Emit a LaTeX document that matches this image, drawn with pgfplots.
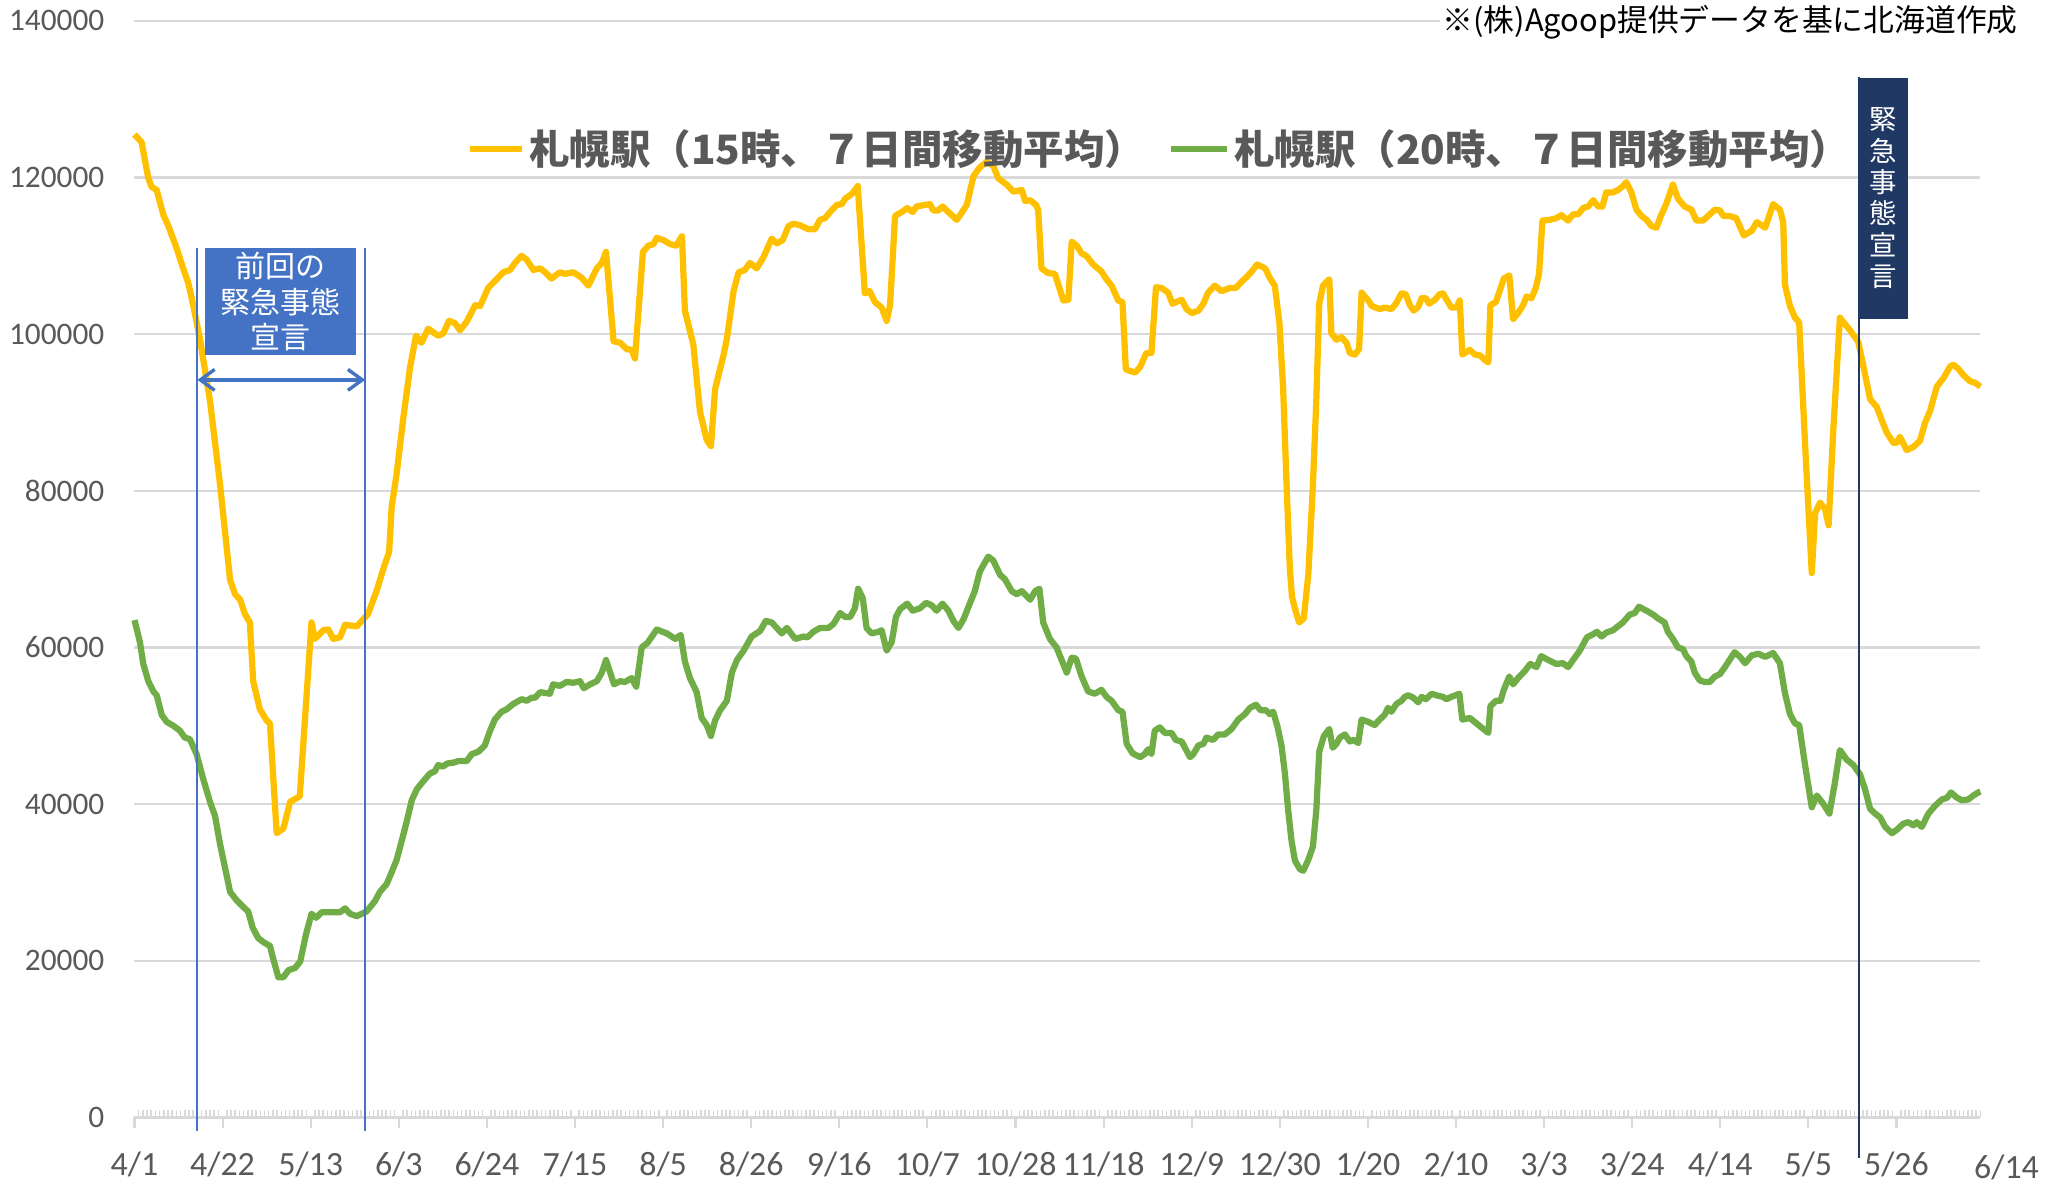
\documentclass[border=0pt]{standalone}
\usepackage{pgfplots}
\pgfplotsset{compat=1.18}
\usepackage{fontspec}
\setmainfont{Carlito}
\newfontfamily\jp{Noto Sans CJK JP}
\usetikzlibrary{arrows.meta}

\definecolor{yellowc}{HTML}{FFC000}
\definecolor{greenc}{HTML}{70AD47}
\definecolor{bluec}{HTML}{4472C4}
\definecolor{navyc}{HTML}{203864}
\definecolor{gridgray}{HTML}{D9D9D9}
\definecolor{labelgray}{HTML}{595959}

\begin{document}
\begin{tikzpicture}
% picture frame: reference pixels, 1 px = 0.5pt
\useasboundingbox (-51.5pt,-26pt) rectangle (732.5pt,428pt);
\begin{axis}[
  width=707pt, height=420pt, scale only axis,
  xmin=0, xmax=440, ymin=0, ymax=140000,
  axis x line*=bottom, axis y line*=left,
  y axis line style={draw=none},
  x axis line style={draw=gridgray, line width=0.8pt},
  xtick={0,21,...,441},
  xticklabels={4/1,4/22,5/13,6/3,6/24,7/15,8/5,8/26,9/16,10/7,10/28,11/18,12/9,12/30,1/20,2/10,3/3,3/24,4/14,5/5,5/26},
  minor x tick num=20,
  ytick={0,20000,...,140000},
  ymajorgrids,
  major grid style={draw=gridgray, line width=0.8pt},
  tick align=inside,
  major tick length=4pt, minor tick length=2.8pt,
  major x tick style={draw=gridgray, line width=0.8pt, yshift=-4pt},
  minor x tick style={draw=gridgray, line width=0.6pt},
  ytick style={draw=none},
  scaled y ticks=false,
  /pgf/number format/fixed,
  /pgf/number format/1000 sep={},
  /pgf/number format/assume math mode=true,
  tick label style={text=labelgray},
  xticklabel style={font=\fontsize{13}{13}\selectfont, yshift=-9.5pt},
  yticklabel style={font=\fontsize{12}{12}\selectfont, xshift=-8pt},
  clip=false,
]
% 15時
\addplot[yellowc, line width=2.4pt, line join=round, no marks] coordinates {
(0,125500)(1.7,124500)(3.3,119900)(4.1,118800)(5.3,118400)(6.9,115200)(8.1,113800)
(10.1,110900)(11.6,108400)(12.8,106600)(14.0,103700)(15.6,99400)(18.0,91500)(20.4,80800)
(22.8,68600)(24.0,66800)(25.2,66100)(26.3,64300)(27.5,63200)(28.3,55700)(29.9,52100)
(31.5,50700)(32.3,50300)(33.9,36300)(35.5,36900)(37.1,40300)(39.4,41000)(42.2,63200)
(43.0,61100)(45.0,62200)(46.2,62300)(47.4,61100)(49.0,61300)(50.2,62900)(53.0,62700)
(55.7,64300)(57.7,67200)(59.3,70000)(60.7,72200)(61.3,77900)(62.5,82200)(64.1,89400)
(65.7,95800)(67.1,99800)(68.4,98900)(70.0,100700)(72.4,99800)(73.6,100100)(75.0,101700)
(76.4,101400)(77.6,100500)(79.2,101600)(81.2,103700)(82.4,103600)(84.3,105900)(86.3,107000)
(87.9,107900)(89.5,108200)(90.7,109100)(92.3,110000)(93.5,109500)(95.1,108200)(96.7,108400)
(97.9,107900)(99.4,107100)(101.4,107900)(102.6,107700)(104.6,107900)(106.6,107200)(108.2,106200)
(110.2,108400)(111.4,109100)(112.4,110500)(114.2,99100)(115.8,98900)(117.3,98100)(118.5,98000)
(119.3,96900)(121.2,110500)(122.5,111300)(123.7,111500)(124.5,112300)(126.1,112000)(127.7,111500)
(129.1,111300)(130.5,112500)(131.2,103000)(133.2,98700)(134.8,90100)(136.4,86500)(137.4,85700)
(138.4,93000)(140.4,97300)(141.2,99400)(142.8,105500)(144.0,107900)(145.5,108200)(146.7,109100)
(148.3,108400)(149.9,109800)(151.9,112200)(153.1,111600)(154.5,112000)(155.9,113800)(157.1,114100)
(158.7,113900)(160.6,113400)(162.2,113400)(163.4,114600)(164.6,114800)(165.8,115600)(167.4,116500)
(168.6,116600)(169.4,117300)(171.0,117900)(172.4,118900)(174.1,105200)(175.2,105500)(176.5,104100)
(178.1,103400)(179.3,101700)(180.1,103700)(181.3,115100)(182.9,115600)(184.2,116100)(185.5,115600)
(186.4,116300)(188.4,116500)(189.6,116600)(190.4,115800)(191.6,115800)(192.6,116300)(194.0,115600)
(196.0,114600)(196.8,115200)(198.4,116500)(200.0,120200)(201.5,121300)(203.1,122000)(204.7,121500)
(205.9,119900)(207.9,119100)(209.5,118200)(211.5,118400)(212.3,117000)(213.5,117100)(214.9,116500)
(215.4,115900)(216.2,108400)(217.8,107800)(219.4,107700)(221.4,104300)(222.6,104400)(223.4,111800)
(224.6,111300)(225.8,110300)(226.9,110000)(228.5,108900)(230.5,108000)(231.7,107000)(232.9,106200)
(234.5,104300)(235.5,104100)(236.3,95500)(238.5,95100)(239.7,95800)(241.2,97600)(242.4,97600)
(243.5,106000)(244.8,105900)(246.4,105300)(247.4,103900)(249.6,104400)(250.8,103200)(252.0,102700)
(253.6,103000)(254.8,103900)(255.9,105300)(257.5,106200)(259.1,105500)(261.1,105900)(262.5,105900)
(263.9,106700)(265.1,107300)(266.3,108000)(267.6,108900)(269.5,108400)(270.6,107200)(271.8,106200)
(272.9,101500)(273.8,93000)(274.6,81000)(275.4,70000)(275.9,66500)(276.6,65000)(277.6,63200)
(278.7,63700)(279.8,69300)(280.9,80800)(281.7,91500)(282.4,103900)(283.3,106200)(284.8,107000)
(285.3,100100)(286.5,99300)(287.7,99600)(288.9,98900)(289.7,97600)(290.9,97400)(291.9,98100)
(292.5,105300)(294.1,104300)(294.9,103600)(296.8,103200)(298.0,103400)(299.6,103200)(300.7,103900)
(302.0,105200)(303.0,105100)(304.0,103700)(304.9,103000)(306.0,103500)(306.8,104600)(307.8,104600)
(308.6,103900)(310.0,104400)(311.1,105100)(311.9,105200)(313.1,104100)(313.9,103400)(315.1,103400)
(315.9,104300)(316.5,97400)(318.3,98000)(319.5,97400)(320.7,97300)(321.9,96700)(322.7,96400)
(323.2,103700)(324.5,104100)(325.4,105500)(326.4,107100)(327.7,107500)(328.6,101900)(329.8,102700)
(331.0,103700)(331.8,104800)(333.0,104600)(334.0,105900)(334.8,107700)(335.6,114500)(337.3,114600)
(338.9,114800)(340.1,115200)(341.7,114500)(342.9,115300)(344.1,115300)(345.3,116100)(346.5,116300)
(347.7,117100)(348.9,116300)(349.9,116300)(350.8,118100)(352.4,118100)(353.6,118400)(354.8,118900)
(355.6,119400)(356.8,118100)(358.0,115900)(359.2,115100)(360.4,114600)(361.6,113800)(362.8,113600)
(363.9,115200)(365.1,116600)(366.7,119100)(367.9,117300)(369.5,116300)(371.1,115900)(372.3,114500)
(373.9,114500)(375.5,115300)(376.7,115900)(377.9,115800)(378.7,115100)(380.2,115100)(381.8,114800)
(383.6,112600)(385.5,113200)(386.7,114300)(388.7,113600)(390.6,116600)(392.2,115900)(393.0,114300)
(393.4,106300)(394.6,103600)(395.8,102100)(396.8,101500)(398.2,86000)(399.8,69500)(400.6,77200)
(401.8,78500)(403.0,77600)(403.8,75600)(404.9,87500)(406.5,102100)(407.7,101300)(408.9,100500)
(410.9,99000)(412.1,95900)(413.7,91700)(415.3,90700)(416.5,89000)(417.7,87400)(419.3,86100)
(420.0,86100)(420.8,86900)(422.4,85200)(424.0,85600)(425.6,86400)(426.8,88700)(428.0,90200)
(429.6,93300)(431.2,94400)(432.8,95900)(433.6,96100)(434.7,95600)(435.9,94800)(437.5,94000)
(438.7,93800)(440.0,93300)
};
% 20時
\addplot[greenc, line width=2.4pt, line join=round, no marks] coordinates {
(0,63500)(1.3,60700)(2.1,57900)(3.3,55700)(4.5,54400)(5.3,53900)(6.5,51400)(7.7,50500)
(9.3,50000)(10.8,49400)(12.0,48500)(13.2,48300)(14.8,46400)(16.4,43200)(18.0,40300)(19.2,38500)
(20.4,34900)(22.8,28800)(24.4,27700)(25.9,26900)(27.1,26300)(28.2,24200)(29.5,22900)(30.7,22400)
(32.3,21900)(33.1,20200)(34.3,17900)(35.5,17900)(36.7,18800)(38.3,19100)(39.5,19900)(40.9,23400)
(42.2,26000)(43.3,25500)(44.6,26200)(46.6,26200)(49.0,26200)(50.2,26700)(51.4,26000)(53.0,25700)
(55.3,26300)(57.3,27600)(58.5,28800)(60.1,29800)(61.3,31300)(62.5,32900)(63.7,35300)(64.9,37800)
(66.1,40500)(67.3,41900)(68.8,42900)(70.4,43900)(71.6,44200)(72.4,45000)(73.5,44800)(74.6,45200)
(76.0,45300)(77.2,45500)(79.2,45500)(80.4,46400)(82.0,46700)(83.5,47500)(84.7,49300)(85.9,50800)
(87.5,51800)(88.7,52100)(90.3,52800)(92.3,53400)(93.5,53200)(94.7,53600)(95.5,53600)(96.7,54300)
(99.0,54100)(99.8,55300)(101.4,55100)(103.0,55600)(104.6,55500)(106.2,55700)(107.1,54800)(108.6,55300)
(110.2,55700)(111.4,56800)(112.4,58400)(113.4,56800)(114.3,55300)(115.8,55700)(116.9,55600)(118.5,56100)
(119.6,55000)(120.9,60000)(122.3,60600)(124.5,62300)(126.9,61800)(128.9,61100)(130.2,61600)(131.2,58200)
(132.4,56100)(134.0,54300)(135.2,51000)(136.4,50100)(137.4,48700)(138.4,50700)(139.6,52000)(141.2,53200)
(142.4,56800)(143.6,58400)(145.2,59600)(147.1,61400)(149.1,62100)(150.5,63400)(151.9,63200)(154.3,61800)
(155.5,62500)(157.5,61100)(159.5,61400)(160.4,61300)(161.8,62000)(163.4,62500)(165.4,62500)(166.6,63000)
(168.2,64400)(169.4,63900)(170.6,63900)(171.7,65000)(172.5,67500)(173.6,66300)(174.5,62500)(175.7,61800)
(177.3,62000)(178.1,62200)(179.3,59600)(180.5,60700)(181.5,63900)(182.5,64900)(184.2,65600)(185.5,64700)
(187.2,65000)(188.7,65700)(190.0,65400)(191.2,64700)(192.6,65600)(194.0,64700)(195.2,63400)(196.4,62500)
(197.6,63600)(198.8,65200)(200.3,67200)(201.5,69700)(203.5,71600)(204.7,71100)(206.3,69300)(207.5,68700)
(209.1,67200)(210.3,66800)(211.5,67200)(213.5,66100)(214.7,67200)(215.7,67500)(216.6,63200)(218.2,61100)
(219.8,60000)(221.0,58400)(222.2,56800)(223.4,58700)(224.4,58600)(225.7,56400)(227.3,54400)(228.9,54100)
(230.5,54600)(231.7,53700)(232.9,53200)(234.5,52000)(235.5,51800)(236.5,47700)(237.9,46500)(239.7,46000)
(240.8,46400)(241.6,47000)(242.4,46400)(243.2,49400)(244.4,49800)(245.6,49100)(247.2,49100)(248.2,48200)
(249.6,48000)(250.4,47200)(251.6,46000)(252.4,46400)(253.6,47500)(254.8,47700)(255.5,48500)(257.1,48200)
(258.3,48900)(259.9,48900)(261.5,49600)(263.1,50800)(264.7,51500)(265.9,52300)(267.3,52700)(268.4,52000)
(269.7,52000)(270.6,51500)(271.4,51800)(272.4,50000)(273.4,47500)(274.2,44000)(275.0,39200)(275.8,35300)
(276.6,32800)(277.8,31700)(278.6,31500)(279.8,32900)(280.9,34600)(281.7,39200)(282.4,46700)(283.5,48700)
(284.8,49600)(285.6,47200)(286.5,47700)(287.3,48500)(288.5,48900)(289.7,48000)(290.6,48200)(291.7,47800)
(292.5,50800)(294.1,50500)(295.6,50100)(296.8,50800)(298.0,51400)(298.8,52300)(299.6,51800)(300.8,52800)
(302.0,53200)(302.8,53700)(303.6,53900)(304.8,53600)(306.0,53000)(306.8,53700)(307.8,53400)(309.2,54100)
(310.3,53900)(311.9,53700)(312.7,53400)(313.9,53700)(315.8,54100)(316.5,50800)(318.3,51000)(319.9,50300)
(321.5,49600)(322.7,49100)(323.2,52500)(324.5,53200)(325.6,53200)(326.4,54600)(327.7,56300)(328.6,55300)
(329.8,56100)(331.4,57000)(332.7,57900)(334.2,57500)(335.3,58900)(337.0,58400)(338.9,57900)(340.5,58000)
(341.7,57500)(342.9,58400)(344.5,59600)(346.2,61300)(347.7,61700)(348.6,62000)(349.7,61400)(350.8,61900)
(352.4,62200)(353.6,62700)(354.8,63200)(356.4,64200)(357.6,64400)(358.6,65200)(360.4,64700)(362.0,64200)
(363.2,63700)(364.7,63200)(365.5,62000)(366.7,61100)(367.9,60000)(369.1,59800)(369.9,58900)(371.1,58200)
(371.9,56800)(373.1,55800)(374.3,55600)(375.5,55600)(376.7,56300)(377.9,56600)(379.1,57500)(380.2,58400)
(381.4,59400)(382.7,58800)(383.9,58000)(385.5,59000)(387.1,59200)(388.7,58800)(390.6,59300)(392.2,58000)
(393.4,54200)(394.6,51500)(395.8,50300)(396.8,50100)(398.2,45000)(399.8,39600)(401.0,41100)(402.6,40000)
(404.0,38800)(405.3,42700)(406.5,46900)(408.1,45700)(409.7,45000)(411.3,43800)(412.5,41900)(413.7,39400)
(414.9,38800)(416.1,38300)(417.3,37100)(418.9,36300)(420.0,36700)(421.6,37500)(422.8,37700)(424.0,37300)
(424.8,37700)(426.0,37100)(427.6,38800)(429.2,39800)(430.8,40600)(432.0,40800)(433.0,41500)(434.2,40900)
(435.5,40500)(437.1,40600)(438.3,41100)(439.5,41500)(440.0,41600)
};
\end{axis}
% annotations, placed in reference pixel units (1 px = 0.5pt)
\begin{scope}[x=0.5pt,y=-0.5pt,shift={(-51.5pt,428pt)}]
  \node[text=labelgray, font=\fontsize{13}{13}\selectfont] at (1537,894) {6/14};
  \node[anchor=east, fill=white, inner sep=1pt, text=black, font=\jp\fontsize{11.8}{11.8}\selectfont] at (1548,17) {※(株)Agoop提供データを基に北海道作成};
  % legend
  \draw[yellowc, line width=2.4pt] (360,114) -- (400,114);
  \node[anchor=west, inner sep=0pt, text=labelgray, font=\jp\bfseries\fontsize{15.5}{15.5}\selectfont] at (405,114) {札幌駅（15時、７日間移動平均）};
  \draw[greenc, line width=2.4pt] (897,114) -- (940,114);
  \node[anchor=west, inner sep=0pt, text=labelgray, font=\jp\bfseries\fontsize{15.5}{15.5}\selectfont] at (945,114) {札幌駅（20時、７日間移動平均）};
  % previous declaration
  \draw[bluec, line width=0.75pt] (151.2,190) -- (151.2,866);
  \draw[bluec, line width=0.75pt] (279.7,190) -- (279.7,866);
  \node[fill=bluec, text=white, minimum width=58pt, minimum height=41pt, inner sep=0pt, align=center,
        font=\jp\fontsize{11.5}{13.5}\selectfont] at (215,231) {前回の\\緊急事態\\宣言};
  \draw[bluec, line width=1.3pt, {Straight Barb[length=5.5pt,width=8pt]}-{Straight Barb[length=5.5pt,width=8pt]}] (151.2,291) -- (279.7,291);
  % current declaration
  \draw[navyc, line width=0.75pt] (1423.8,59) -- (1423.8,887);
  \node[anchor=north west, fill=navyc, text=white, minimum width=19pt, minimum height=92.5pt, inner sep=0pt, align=center,
        font=\jp\fontsize{10.5}{12}\selectfont] at (1423.4,59) {緊\\急\\事\\態\\宣\\言};
\end{scope}
\end{tikzpicture}
\end{document}
